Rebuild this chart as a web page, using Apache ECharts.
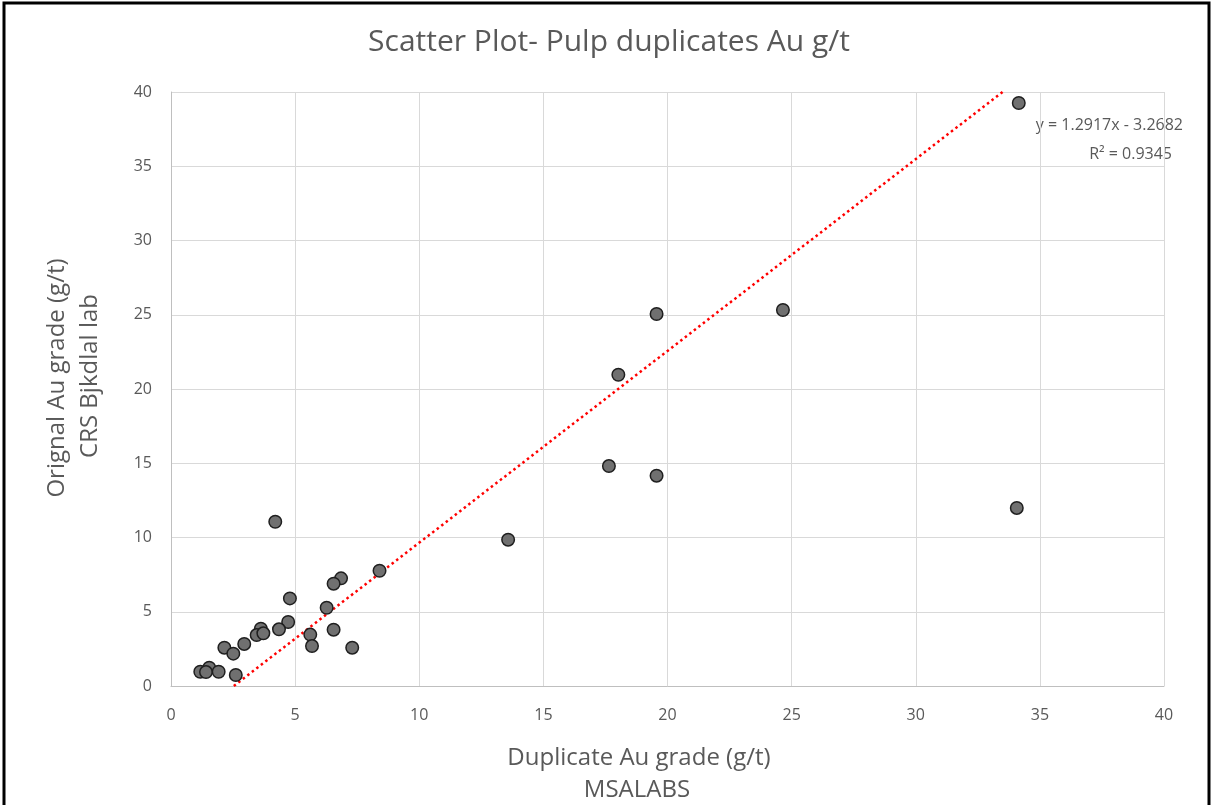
<!DOCTYPE html>
<html>
<head>
<meta charset="utf-8">
<script src="https://cdn.jsdelivr.net/npm/echarts@6/dist/echarts.min.js"></script>
<style>
  html, body { margin: 0; padding: 0; background: #fff; }
  #chart { width: 1213px; height: 805px; }
</style>
</head>
<body>
<div id="chart"></div>
<script>
// duplicate (x) vs original (y), g/t
var dupGrade = [4.2, 8.4, 6.85, 6.55, 4.79, 6.27, 4.72, 4.35, 3.62, 3.45, 3.72, 5.61, 6.55, 5.68, 7.3, 2.95, 2.15, 2.51, 1.18, 1.54, 1.41, 1.92, 2.61,
                19.56, 18.02, 17.64, 19.56, 13.58, 24.65, 34.15, 34.07];
var origGrade = [11.06, 7.76, 7.25, 6.89, 5.9, 5.27, 4.31, 3.82, 3.86, 3.43, 3.55, 3.46, 3.79, 2.69, 2.58, 2.83, 2.58, 2.18, 0.96, 1.23, 0.94, 0.96, 0.74,
                 25.05, 20.96, 14.81, 14.16, 9.85, 25.32, 39.26, 11.99];

// linear trendline shown on the chart
var slope = 1.2917;
var intercept = -3.2682;
var rSquared = 0.9345;

var axisMin = 0, axisMax = 40, axisStep = 5;

var points = [];
for (var i = 0; i < dupGrade.length; i++) {
    points.push([dupGrade[i], origGrade[i]]);
}

// trendline clipped to the visible y range
var trendX0 = (axisMin - intercept) / slope;
var trendX1 = (axisMax - intercept) / slope;
var trend = [[trendX0, slope * trendX0 + intercept], [trendX1, slope * trendX1 + intercept]];

var textColor = '#595959';
var fontFam = '"Open Sans", sans-serif';

var chart = echarts.init(document.getElementById('chart'));
chart.setOption({
    animation: false,
    grid: { left: 171, right: 49, top: 92, bottom: 119 },
    xAxis: {
        type: 'value', min: axisMin, max: axisMax, interval: axisStep,
        axisLine: { show: true, lineStyle: { color: '#bfbfbf' } },
        axisTick: { show: false },
        axisLabel: { color: textColor, fontSize: 16, fontFamily: fontFam, margin: 21 },
        splitLine: { lineStyle: { color: '#d9d9d9' } }
    },
    yAxis: {
        type: 'value', min: axisMin, max: axisMax, interval: axisStep,
        axisLine: { show: true, lineStyle: { color: '#bfbfbf' } },
        axisTick: { show: false },
        axisLabel: { color: textColor, fontSize: 16, fontFamily: fontFam, margin: 19 },
        splitLine: { lineStyle: { color: '#d9d9d9' } }
    },
    series: [
        {
            type: 'line',
            data: trend,
            symbol: 'none',
            lineStyle: { color: '#ff0000', width: 2.5, type: [2.5, 3.2] },
            z: 3
        },
        {
            type: 'scatter',
            data: points,
            symbolSize: 12.5,
            itemStyle: { color: '#707070', borderColor: '#1f1f1f', borderWidth: 1.5, opacity: 1 },
            z: 4
        }
    ],
    graphic: [
        { type: 'rect', shape: { x: 4, y: 3, width: 1205, height: 820 }, style: { fill: 'none', stroke: '#000', lineWidth: 3 } },
        { type: 'text', x: 609, y: 42, style: { text: 'Scatter Plot- Pulp duplicates Au g/t', fill: textColor, fontSize: 30, fontFamily: fontFam, align: 'center', verticalAlign: 'middle' } },
        { type: 'text', x: 1183, y: 125, style: { text: 'y = ' + slope + 'x - ' + Math.abs(intercept), fill: textColor, fontSize: 16, fontFamily: fontFam, align: 'right', verticalAlign: 'middle' } },
        { type: 'text', x: 1172, y: 154, style: { text: 'R\u00b2 = ' + rSquared, fill: textColor, fontSize: 16, fontFamily: fontFam, align: 'right', verticalAlign: 'middle' } },
        { type: 'text', x: 639, y: 758, style: { text: 'Duplicate Au grade (g/t)', fill: textColor, fontSize: 24, fontFamily: fontFam, align: 'center', verticalAlign: 'middle' } },
        { type: 'text', x: 637, y: 790, style: { text: 'MSALABS', fill: textColor, fontSize: 24, fontFamily: fontFam, align: 'center', verticalAlign: 'middle' } },
        { type: 'text', x: 57, y: 378, rotation: Math.PI / 2, style: { text: 'Orignal Au grade (g/t)', fill: textColor, fontSize: 24, fontFamily: fontFam, align: 'center', verticalAlign: 'middle' } },
        { type: 'text', x: 90, y: 376, rotation: Math.PI / 2, style: { text: 'CRS Bjkdlal lab', fill: textColor, fontSize: 24, fontFamily: fontFam, align: 'center', verticalAlign: 'middle' } }
    ]
});
</script>
</body>
</html>
